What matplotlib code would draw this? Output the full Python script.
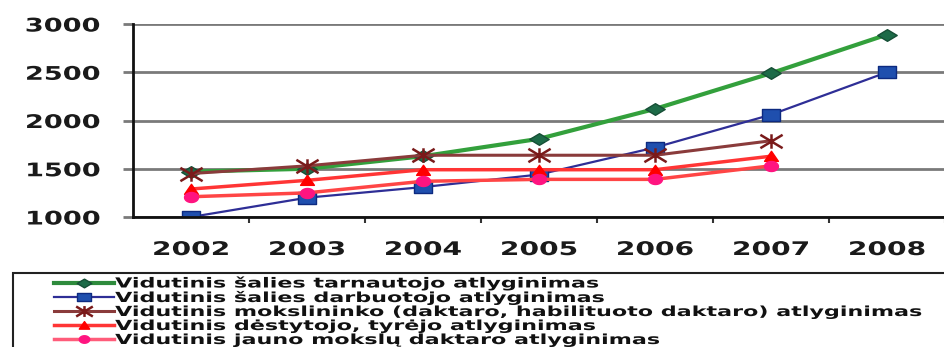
import numpy as np
import matplotlib
matplotlib.use("Agg")
import matplotlib.pyplot as plt
from matplotlib.path import Path
from matplotlib.markers import MarkerStyle
from matplotlib.patches import Rectangle
from matplotlib.lines import Line2D
from matplotlib.patheffects import AbstractPathEffect
from matplotlib.transforms import Affine2D

# ---- data -------------------------------------------------------------
years = ["2002", "2003", "2004", "2005", "2006", "2007", "2008"]
tarnautojo = [1470, 1500, 1630, 1810, 2120, 2490, 2890]
darbuotojo = [1000, 1200, 1310, 1440, 1720, 2060, 2500]
mokslininko = [1450, 1530, 1640, 1640, 1640, 1790, np.nan]
destytojo = [1290, 1380, 1490, 1490, 1490, 1630, np.nan]
jauno_dr = [1210, 1250, 1370, 1390, 1390, 1530, np.nan]

labels = [
    "Vidutinis šalies tarnautojo atlyginimas",
    "Vidutinis šalies darbuotojo atlyginimas",
    "Vidutinis mokslininko (daktaro, habilituoto daktaro) atlyginimas",
    "Vidutinis dėstytojo, tyrėjo atlyginimas",
    "Vidutinis jauno mokslų daktaro atlyginimas",
]
yticks = [1000, 1500, 2000, 2500, 3000]

PX = 72 / 100  # points per pixel at 100 dpi


# ---- wide lettering: stretch glyph outlines horizontally ---------------
class WideGlyphs(AbstractPathEffect):
    def __init__(self, sx, anchor="center"):
        super().__init__()
        self.sx = sx
        self.anchor = anchor

    def draw_path(self, renderer, gc, tpath, affine, rgbFace=None):
        if len(tpath.vertices) == 0:
            return
        ext = tpath.get_extents()
        ref = {"left": 0.0, "center": 0.5 * (ext.x0 + ext.x1), "right": ext.x1}[self.anchor]
        stretch = Affine2D().translate(-ref, 0).scale(self.sx, 1).translate(ref, 0)
        renderer.draw_path(gc, tpath, stretch + affine, rgbFace)


# ---- wide marker shapes ------------------------------------------------
diamond = MarkerStyle(Path([(0, 0.6), (1, 0), (0, -0.6), (-1, 0), (0, 0.6)], closed=True))
square = MarkerStyle(Path([(-1, -0.62), (1, -0.62), (1, 0.62), (-1, 0.62), (-1, -0.62)], closed=True))
triangle = MarkerStyle(Path([(-1, -0.7), (1, -0.7), (0, 0.75), (-1, -0.7)], closed=True))
theta = np.linspace(0, 2 * np.pi, 40)
ellipse = MarkerStyle(Path(np.column_stack([np.cos(theta), 0.72 * np.sin(theta)]), closed=True))
star = MarkerStyle(Path(
    [(-1, -0.6), (1, 0.6), (-1, 0.6), (1, -0.6), (0, -0.65), (0, 0.65)],
    [Path.MOVETO, Path.LINETO, Path.MOVETO, Path.LINETO, Path.MOVETO, Path.LINETO]))

series = [
    (tarnautojo, dict(color="#33a03c", lw=3.0, marker=diamond, ms=14,
                      mfc="#1d6b48", mec="#164f36", mew=1.0)),
    (darbuotojo, dict(color="#2e2e96", lw=1.6, marker=square, ms=13.5,
                      mfc="#1f4fae", mec="#0d2a80", mew=1.0)),
    (mokslininko, dict(color="#8a3b3b", lw=2.2, marker=star, ms=16,
                       mfc="none", mec="#7a1a1a", mew=1.8)),
    (destytojo, dict(color="#ff3535", lw=2.5, marker=triangle, ms=10,
                     mfc="#ff0000", mec="#ff0000", mew=1.0)),
    (jauno_dr, dict(color="#ff4545", lw=2.5, marker=ellipse, ms=10,
                    mfc="#ff1480", mec="#ff1480", mew=1.0)),
]

# ---- figure ------------------------------------------------------------
W, H = 944, 347
fig = plt.figure(figsize=(W / 100, H / 100), dpi=100)
ax = fig.add_axes([133 / W, 1 - 217 / H, 812 / W, 193 / H])

x = np.arange(len(years))
for vals, st in series:
    ax.plot(x, vals, **st)

ax.set_xlim(-0.5, len(years) - 0.5)
ax.set_ylim(1000, 3000)

ax.set_yticks(yticks)
ax.set_yticklabels([str(v) for v in yticks])
ax.yaxis.grid(True, color="#7a7a7a", lw=2.0)
ax.set_axisbelow(True)
ax.tick_params(axis="y", length=10 * PX, width=2.0, color="#7a7a7a",
               pad=23 * PX, labelsize=13.5, labelcolor="#1a1a1a")

ax.set_xticks(x)
ax.set_xticklabels(years)
ax.set_xticks(np.arange(len(years)) + 0.5, minor=True)
ax.tick_params(axis="x", which="major", length=0, pad=23 * PX, labelsize=13.5,
               labelcolor="#1a1a1a")
ax.tick_params(axis="x", which="minor", length=6 * PX, width=1.5, color="#333333")

for side in ("top", "right"):
    ax.spines[side].set_visible(False)
for side in ("left", "bottom"):
    ax.spines[side].set_linewidth(2.0)
    ax.spines[side].set_color("#111111")

for lbl in ax.get_yticklabels():
    lbl.set_fontweight("bold")
    lbl.set_path_effects([WideGlyphs(1.45, "right")])
for lbl in ax.get_xticklabels():
    lbl.set_fontweight("bold")
    lbl.set_path_effects([WideGlyphs(1.5, "center")])

# ---- legend ------------------------------------------------------------
fig.patches.append(Rectangle((13 / W, -0.2), 1.0, 0.2 + 1 - 273 / H,
                             transform=fig.transFigure, fill=False,
                             lw=1.5, ec="#222222", zorder=0))

legend_handles = []
for vals, st in series:
    hs = dict(st)
    hs["ms"] = st["ms"] * 0.75
    legend_handles.append(Line2D([], [], **hs))
legend_handles[0].set_color("#2e8b3c")
legend_handles[4].set_color("#ff5c7a")

leg = fig.legend(legend_handles, labels, loc="upper left",
                 bbox_to_anchor=(54 / W, 1 - 276 / H), frameon=False,
                 borderpad=0, borderaxespad=0, handlelength=4.3,
                 handletextpad=0.1, labelspacing=0.0,
                 prop=dict(family="DejaVu Sans", weight="bold", size=10))
for t in leg.get_texts():
    t.set_color("#111111")
    t.set_path_effects([WideGlyphs(1.6, "left")])

fig.savefig("out.png", dpi=100)
